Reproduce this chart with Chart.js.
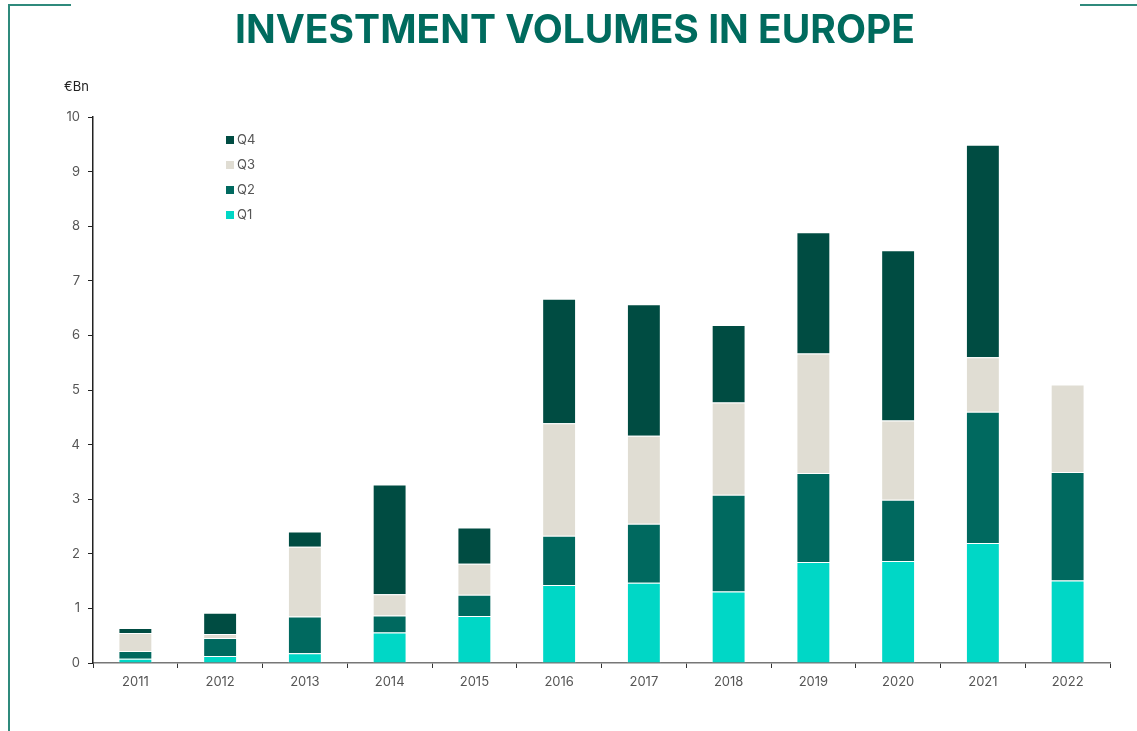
<!DOCTYPE html>
<html lang="en">

<head>
    <meta charset="UTF-8">
    <title>Investment volumes in Europe</title>
    <script src="https://cdn.jsdelivr.net/npm/chart.js"></script>
    <style>
        body { margin: 0; background: #fff; font-family: Inter, "DejaVu Sans", sans-serif; }
        #pagina { position: relative; width: 1137px; height: 731px; overflow: hidden; }
        #grafico { position: absolute; left: 0; top: 0; }
        .linha { position: absolute; background: #2f8a7c; }
        #titulo {
            position: absolute; left: 0; width: 1150px; top: 5px; text-align: center;
            font-size: 39px; font-weight: 700; color: #006b5e; letter-spacing: 0px;
        }
        #unidade { position: absolute; left: 64px; top: 78px; font-size: 13px; color: #222; }
        #legenda { position: absolute; left: 226px; top: 131px; font-size: 13px; color: #555; }
        #legenda div { height: 25px; line-height: 16px; }
        #legenda span { display: inline-block; width: 8px; height: 8px; margin-right: 3px; }
    </style>
</head>

<body>
    <div id="pagina">
        <div class="linha" style="left:8px; top:4px; width:2px; height:727px;"></div>
        <div class="linha" style="left:8px; top:4px; width:63px; height:2px;"></div>
        <div class="linha" style="left:1080px; top:4px; width:57px; height:2px;"></div>
        <canvas id="grafico" width="1137" height="731"></canvas>
        <div id="titulo">INVESTMENT VOLUMES IN EUROPE</div>
        <div id="unidade">€Bn</div>
        <div id="legenda"></div>
    </div>

<script>
    // valores em bilhoes de euros
    var anos = ['2011', '2012', '2013', '2014', '2015', '2016', '2017', '2018', '2019', '2020', '2021', '2022'];
    var q1 = [0.08, 0.13, 0.18, 0.56, 0.86, 1.43, 1.47, 1.31, 1.85, 1.87, 2.20, 1.51];
    var q2 = [0.14, 0.33, 0.67, 0.31, 0.39, 0.90, 1.08, 1.77, 1.63, 1.12, 2.40, 1.99];
    var q3 = [0.33, 0.07, 1.28, 0.39, 0.57, 2.06, 1.61, 1.69, 2.19, 1.45, 1.00, 1.60];
    var q4 = [0.09, 0.39, 0.28, 2.01, 0.66, 2.28, 2.41, 1.42, 2.22, 3.12, 3.89, 0];
    var eixoY = [0, 1, 2, 3, 4, 5, 6, 7, 8, 9, 10];

    var cores = { Q1: '#00d7c6', Q2: '#00695f', Q3: '#e0ddd3', Q4: '#004c42' };

    var series = [
        { label: 'Q1', data: q1 },
        { label: 'Q2', data: q2 },
        { label: 'Q3', data: q3 },
        { label: 'Q4', data: q4 }
    ];

    var datasets = series.map(function (s) {
        return {
            label: s.label,
            data: s.data,
            backgroundColor: cores[s.label],
            borderColor: 'rgba(255,255,255,0.45)',
            borderWidth: 1,
            barPercentage: 0.5,
            categoryPercentage: 0.8
        };
    });

    // legenda em ordem inversa, como no original
    var legenda = document.getElementById('legenda');
    series.slice().reverse().forEach(function (s) {
        var linha = document.createElement('div');
        linha.innerHTML = '<span style="background:' + cores[s.label] + '"></span>' + s.label;
        legenda.appendChild(linha);
    });

    Chart.defaults.font.family = 'Inter, "DejaVu Sans", sans-serif';
    Chart.defaults.font.size = 13;
    Chart.defaults.color = '#555';

    new Chart(document.getElementById('grafico'), {
        type: 'bar',
        data: { labels: anos, datasets: datasets },
        options: {
            responsive: false,
            animation: false,
            layout: { padding: { left: 0, right: 27, top: 117, bottom: 0 } },
            plugins: {
                legend: { display: false },
                tooltip: { enabled: false }
            },
            scales: {
                x: {
                    stacked: true,
                    afterFit: function (escala) { escala.height = 68; },
                    border: { color: '#777', width: 1.5 },
                    grid: { drawOnChartArea: false, drawTicks: true, tickLength: 5, color: '#333', offset: true },
                    ticks: { padding: 6, color: '#555' }
                },
                y: {
                    stacked: true,
                    min: 0,
                    max: 10,
                    afterFit: function (escala) { escala.width = 93; },
                    afterBuildTicks: function (escala) {
                        escala.ticks = eixoY.map(function (v) { return { value: v }; });
                    },
                    border: { color: '#222', width: 1.5 },
                    grid: { drawOnChartArea: false, drawTicks: true, tickLength: 5, color: '#222' },
                    ticks: { padding: 8, color: '#555' }
                }
            }
        }
    });
</script>
</body>

</html>
